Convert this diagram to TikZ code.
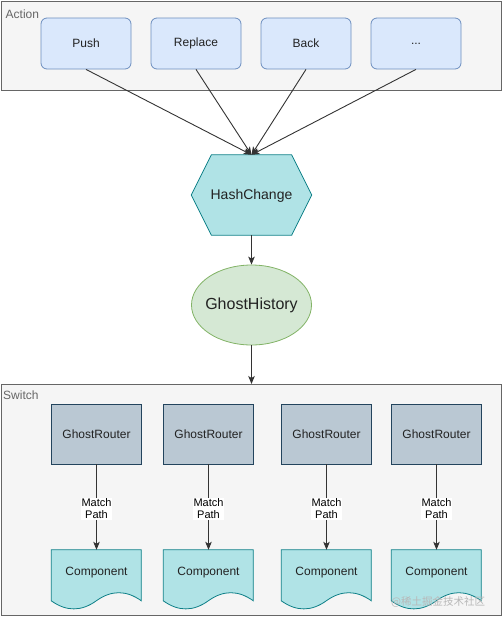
\documentclass[tikz,border=0pt]{standalone}
\usepackage{fontspec}
\setmainfont{Liberation Sans}
\newfontfamily\cjk{Noto Sans CJK SC}
\usetikzlibrary{shapes.geometric,arrows.meta}
\definecolor{contfill}{HTML}{F5F5F5}
\definecolor{contline}{HTML}{666666}
\definecolor{actfill}{HTML}{DAE8FC}
\definecolor{actline}{HTML}{6C8EBF}
\definecolor{tealfill}{HTML}{B0E3E6}
\definecolor{tealline}{HTML}{0E8088}
\definecolor{greenfill}{HTML}{D5E8D4}
\definecolor{greenline}{HTML}{82B366}
\definecolor{routerfill}{HTML}{BAC8D3}
\definecolor{routerline}{HTML}{23445D}
\definecolor{arrowc}{HTML}{333333}
\definecolor{txt}{HTML}{222222}
\tikzset{
  container/.style={draw=contline, fill=contfill, line width=1pt, rectangle, anchor=north west, inner sep=0pt},
  contlabel/.style={text=contline, font=\fontsize{12}{14}\selectfont, anchor=west, inner sep=0pt},
  actbox/.style={draw=actline, fill=actfill, line width=0.8pt, rounded corners=6pt, minimum width=90pt, minimum height=51pt, inner sep=0pt, text=txt, font=\fontsize{12}{14}\selectfont},
  hexbase/.style={minimum width=120pt, minimum height=80pt, inner sep=0pt},
  histbox/.style={ellipse, draw=greenline, fill=greenfill, line width=0.8pt, minimum width=120pt, minimum height=80pt, inner sep=0pt},
  routerbox/.style={draw=routerline, fill=routerfill, line width=0.8pt, minimum width=90pt, minimum height=60pt, inner sep=0pt, text=txt, font=\fontsize{12}{14}\selectfont},
  docbase/.style={minimum width=90pt, minimum height=60pt, inner sep=0pt},
  doctext/.style={text=txt, font=\fontsize{12}{14}\selectfont},
  arr/.style={draw=arrowc, line width=0.9pt, -{Stealth[length=8pt,width=6.5pt,inset=2pt]}},
  edgelabel/.style={fill=white, inner sep=1pt, align=center, text=black, font=\fontsize{11}{12.5}\selectfont}
}
\newcommand{\drawdoc}[1]{%
  \begin{scope}[shift={(#1.north west)}]
    \filldraw[draw=tealline, fill=tealfill, line width=0.8pt]
      (0,0) -- (90,0) -- (90,51)
      .. controls (75,40.2) and (60,40.2) .. (45,51)
      .. controls (30,61.8) and (15,61.8) .. (0,51) -- cycle;
  \end{scope}}
\begin{document}
\begin{tikzpicture}[x=1pt,y=-1pt]
\useasboundingbox (0,0) rectangle (503,625);
% containers
\node[container, minimum width=500pt, minimum height=89.5pt] (action) at (0.5,0.5) {};
\node[contlabel] (actionlbl) at (5.5,14) {Action};
\node[container, minimum width=499.5pt, minimum height=231pt] (switch) at (1,384) {};
\node[contlabel] (switchlbl) at (3,395) {Switch};
% action boxes
\node[actbox] (push) at (86,43.5) {Push};
\node[actbox] (replace) at (196,43.5) {Replace};
\node[actbox] (back) at (306,43.5) {Back};
\node[actbox] (more) at (416,43.5) {...};
% hexagon
\node[hexbase] (hash) at (251.5,195) {};
\filldraw[draw=tealline, fill=tealfill, line width=0.8pt]
  ([xshift=20pt]hash.north west) -- ([xshift=-20pt]hash.north east) -- (hash.east)
  -- ([xshift=-20pt]hash.south east) -- ([xshift=20pt]hash.south west) -- (hash.west) -- cycle;
\node[text=txt, font=\fontsize{14}{16}\selectfont] (hashtxt) at ([yshift=-1pt]hash.center) {HashChange};
% history
\node[histbox] (hist) at (251.5,305) {};
\node[text=txt, font=\fontsize{16}{18}\selectfont] (histtxt) at (hist.center) {GhostHistory};
% arrows top
\draw[arr] (push.south) -- (hash.north);
\draw[arr] (replace.south) -- (hash.north);
\draw[arr] (back.south) -- (hash.north);
\draw[arr] (more.south) -- (hash.north);
\draw[arr] (hash.south) -- (hist.north);
\draw[arr] (hist.south) -- (hist.south |- switch.north);
% routers and components
\foreach \i/\x in {1/96.5,2/208.5,3/326.5,4/436.5}{
  \node[routerbox] (r\i) at (\x,434) {GhostRouter};
  \node[docbase] (c\i) at (\x,580) {};
  \drawdoc{c\i}
  \node[doctext] (ct\i) at ([yshift=7pt]c\i.center) {Component};
  \draw[arr] (r\i.south) -- node[edgelabel, pos=0.52] {Match\\Path} (c\i.north);
}
% watermark
\node[anchor=west, text=black!28, inner sep=0pt, font=\cjk\fontsize{10.5}{12}\selectfont] (wm) at (391,602) {@稀土掘金技术社区};
\end{tikzpicture}
\end{document}
